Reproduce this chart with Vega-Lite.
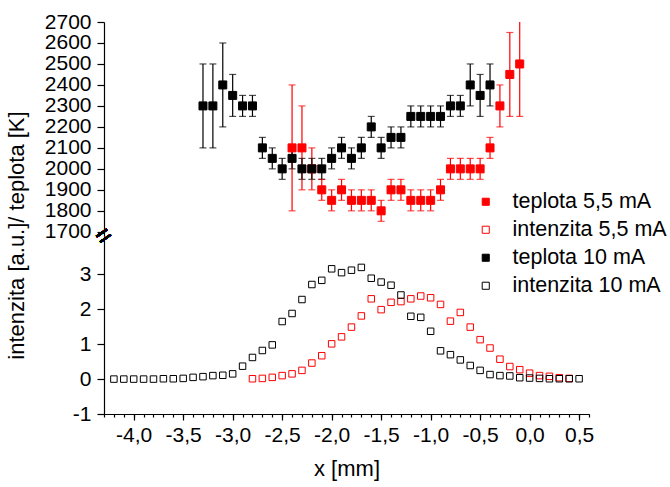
{
  "$schema": "https://vega.github.io/schema/vega-lite/v6.json",
  "autosize": {"type": "pad"},
  "padding": {"left": 5, "top": 11, "right": 20, "bottom": 40},
  "background": "white",
  "spacing": 0,
  "bounds": "flush",
  "config": {
    "font": "Liberation Sans",
    "view": {"stroke": null},
    "axis": {"labelFont": "Liberation Sans", "labelFontSize": 21, "labelColor": "black", "labelOverlap": false, "titleFont": "Liberation Sans", "titleFontSize": 22, "titleFontWeight": "normal", "titleColor": "black", "domainColor": "black", "tickColor": "black", "grid": false, "domainWidth": 1.2, "tickWidth": 1.2},
    "legend": {"labelFont": "Liberation Sans", "labelFontSize": 21.5, "labelColor": "black"}
  },
  "resolve": {"scale": {"fill": "shared", "stroke": "shared", "color": "shared"}},
  "datasets": {
    "teplota": [
      {"x": -2.4, "T": 2100, "lo": 1800, "hi": 2400, "series": "teplota 5,5 mA"},
      {"x": -2.3, "T": 2100, "lo": 1900, "hi": 2300, "series": "teplota 5,5 mA"},
      {"x": -2.2, "T": 2000, "lo": 1900, "hi": 2100, "series": "teplota 5,5 mA"},
      {"x": -2.1, "T": 1900, "lo": 1850, "hi": 1950, "series": "teplota 5,5 mA"},
      {"x": -2.0, "T": 1850, "lo": 1800, "hi": 1900, "series": "teplota 5,5 mA"},
      {"x": -1.9, "T": 1900, "lo": 1850, "hi": 1950, "series": "teplota 5,5 mA"},
      {"x": -1.8, "T": 1850, "lo": 1800, "hi": 1900, "series": "teplota 5,5 mA"},
      {"x": -1.7, "T": 1850, "lo": 1800, "hi": 1900, "series": "teplota 5,5 mA"},
      {"x": -1.6, "T": 1850, "lo": 1800, "hi": 1900, "series": "teplota 5,5 mA"},
      {"x": -1.5, "T": 1800, "lo": 1750, "hi": 1850, "series": "teplota 5,5 mA"},
      {"x": -1.4, "T": 1900, "lo": 1850, "hi": 1950, "series": "teplota 5,5 mA"},
      {"x": -1.3, "T": 1900, "lo": 1850, "hi": 1950, "series": "teplota 5,5 mA"},
      {"x": -1.2, "T": 1850, "lo": 1800, "hi": 1900, "series": "teplota 5,5 mA"},
      {"x": -1.1, "T": 1850, "lo": 1800, "hi": 1900, "series": "teplota 5,5 mA"},
      {"x": -1.0, "T": 1850, "lo": 1800, "hi": 1900, "series": "teplota 5,5 mA"},
      {"x": -0.9, "T": 1900, "lo": 1850, "hi": 1950, "series": "teplota 5,5 mA"},
      {"x": -0.8, "T": 2000, "lo": 1950, "hi": 2050, "series": "teplota 5,5 mA"},
      {"x": -0.7, "T": 2000, "lo": 1950, "hi": 2050, "series": "teplota 5,5 mA"},
      {"x": -0.6, "T": 2000, "lo": 1950, "hi": 2050, "series": "teplota 5,5 mA"},
      {"x": -0.5, "T": 2000, "lo": 1950, "hi": 2050, "series": "teplota 5,5 mA"},
      {"x": -0.4, "T": 2100, "lo": 2050, "hi": 2150, "series": "teplota 5,5 mA"},
      {"x": -0.3, "T": 2300, "lo": 2200, "hi": 2400, "series": "teplota 5,5 mA"},
      {"x": -0.2, "T": 2450, "lo": 2250, "hi": 2650, "series": "teplota 5,5 mA"},
      {"x": -0.1, "T": 2500, "lo": 2250, "hi": 2750, "series": "teplota 5,5 mA"},
      {"x": -3.3, "T": 2300, "lo": 2100, "hi": 2500, "series": "teplota 10 mA"},
      {"x": -3.2, "T": 2300, "lo": 2100, "hi": 2500, "series": "teplota 10 mA"},
      {"x": -3.1, "T": 2400, "lo": 2200, "hi": 2600, "series": "teplota 10 mA"},
      {"x": -3.0, "T": 2350, "lo": 2250, "hi": 2450, "series": "teplota 10 mA"},
      {"x": -2.9, "T": 2300, "lo": 2250, "hi": 2350, "series": "teplota 10 mA"},
      {"x": -2.8, "T": 2300, "lo": 2250, "hi": 2350, "series": "teplota 10 mA"},
      {"x": -2.7, "T": 2100, "lo": 2050, "hi": 2150, "series": "teplota 10 mA"},
      {"x": -2.6, "T": 2050, "lo": 2000, "hi": 2100, "series": "teplota 10 mA"},
      {"x": -2.5, "T": 2000, "lo": 1950, "hi": 2050, "series": "teplota 10 mA"},
      {"x": -2.4, "T": 2050, "lo": 2000, "hi": 2100, "series": "teplota 10 mA"},
      {"x": -2.3, "T": 2000, "lo": 1950, "hi": 2050, "series": "teplota 10 mA"},
      {"x": -2.2, "T": 2000, "lo": 1950, "hi": 2050, "series": "teplota 10 mA"},
      {"x": -2.1, "T": 2000, "lo": 1950, "hi": 2050, "series": "teplota 10 mA"},
      {"x": -2.0, "T": 2050, "lo": 2000, "hi": 2100, "series": "teplota 10 mA"},
      {"x": -1.9, "T": 2100, "lo": 2050, "hi": 2150, "series": "teplota 10 mA"},
      {"x": -1.8, "T": 2050, "lo": 2000, "hi": 2100, "series": "teplota 10 mA"},
      {"x": -1.7, "T": 2100, "lo": 2050, "hi": 2150, "series": "teplota 10 mA"},
      {"x": -1.6, "T": 2200, "lo": 2150, "hi": 2250, "series": "teplota 10 mA"},
      {"x": -1.5, "T": 2100, "lo": 2050, "hi": 2150, "series": "teplota 10 mA"},
      {"x": -1.4, "T": 2150, "lo": 2100, "hi": 2200, "series": "teplota 10 mA"},
      {"x": -1.3, "T": 2150, "lo": 2100, "hi": 2200, "series": "teplota 10 mA"},
      {"x": -1.2, "T": 2250, "lo": 2200, "hi": 2300, "series": "teplota 10 mA"},
      {"x": -1.1, "T": 2250, "lo": 2200, "hi": 2300, "series": "teplota 10 mA"},
      {"x": -1.0, "T": 2250, "lo": 2200, "hi": 2300, "series": "teplota 10 mA"},
      {"x": -0.9, "T": 2250, "lo": 2200, "hi": 2300, "series": "teplota 10 mA"},
      {"x": -0.8, "T": 2300, "lo": 2250, "hi": 2350, "series": "teplota 10 mA"},
      {"x": -0.7, "T": 2300, "lo": 2250, "hi": 2350, "series": "teplota 10 mA"},
      {"x": -0.6, "T": 2400, "lo": 2300, "hi": 2500, "series": "teplota 10 mA"},
      {"x": -0.5, "T": 2350, "lo": 2250, "hi": 2450, "series": "teplota 10 mA"},
      {"x": -0.4, "T": 2400, "lo": 2300, "hi": 2500, "series": "teplota 10 mA"}
    ],
    "intenzita": [
      {"x": -2.8, "I": 0.01, "series": "intenzita 5,5 mA"},
      {"x": -2.7, "I": 0.02, "series": "intenzita 5,5 mA"},
      {"x": -2.6, "I": 0.05, "series": "intenzita 5,5 mA"},
      {"x": -2.5, "I": 0.1, "series": "intenzita 5,5 mA"},
      {"x": -2.4, "I": 0.15, "series": "intenzita 5,5 mA"},
      {"x": -2.3, "I": 0.25, "series": "intenzita 5,5 mA"},
      {"x": -2.2, "I": 0.46, "series": "intenzita 5,5 mA"},
      {"x": -2.1, "I": 0.67, "series": "intenzita 5,5 mA"},
      {"x": -2.0, "I": 1.01, "series": "intenzita 5,5 mA"},
      {"x": -1.9, "I": 1.21, "series": "intenzita 5,5 mA"},
      {"x": -1.8, "I": 1.49, "series": "intenzita 5,5 mA"},
      {"x": -1.7, "I": 1.81, "series": "intenzita 5,5 mA"},
      {"x": -1.6, "I": 2.3, "series": "intenzita 5,5 mA"},
      {"x": -1.5, "I": 1.99, "series": "intenzita 5,5 mA"},
      {"x": -1.4, "I": 2.2, "series": "intenzita 5,5 mA"},
      {"x": -1.3, "I": 2.22, "series": "intenzita 5,5 mA"},
      {"x": -1.2, "I": 2.3, "series": "intenzita 5,5 mA"},
      {"x": -1.1, "I": 2.38, "series": "intenzita 5,5 mA"},
      {"x": -1.0, "I": 2.33, "series": "intenzita 5,5 mA"},
      {"x": -0.9, "I": 2.14, "series": "intenzita 5,5 mA"},
      {"x": -0.8, "I": 1.66, "series": "intenzita 5,5 mA"},
      {"x": -0.7, "I": 1.91, "series": "intenzita 5,5 mA"},
      {"x": -0.6, "I": 1.49, "series": "intenzita 5,5 mA"},
      {"x": -0.5, "I": 1.13, "series": "intenzita 5,5 mA"},
      {"x": -0.4, "I": 0.89, "series": "intenzita 5,5 mA"},
      {"x": -0.3, "I": 0.57, "series": "intenzita 5,5 mA"},
      {"x": -0.2, "I": 0.36, "series": "intenzita 5,5 mA"},
      {"x": -0.1, "I": 0.27, "series": "intenzita 5,5 mA"},
      {"x": 0.0, "I": 0.17, "series": "intenzita 5,5 mA"},
      {"x": 0.1, "I": 0.1, "series": "intenzita 5,5 mA"},
      {"x": 0.2, "I": 0.08, "series": "intenzita 5,5 mA"},
      {"x": 0.3, "I": 0.04, "series": "intenzita 5,5 mA"},
      {"x": 0.4, "I": 0.02, "series": "intenzita 5,5 mA"},
      {"x": -4.2, "I": 0.0, "series": "intenzita 10 mA"},
      {"x": -4.1, "I": 0.0, "series": "intenzita 10 mA"},
      {"x": -4.0, "I": 0.0, "series": "intenzita 10 mA"},
      {"x": -3.9, "I": 0.0, "series": "intenzita 10 mA"},
      {"x": -3.8, "I": 0.0, "series": "intenzita 10 mA"},
      {"x": -3.7, "I": 0.01, "series": "intenzita 10 mA"},
      {"x": -3.6, "I": 0.01, "series": "intenzita 10 mA"},
      {"x": -3.5, "I": 0.02, "series": "intenzita 10 mA"},
      {"x": -3.4, "I": 0.05, "series": "intenzita 10 mA"},
      {"x": -3.3, "I": 0.07, "series": "intenzita 10 mA"},
      {"x": -3.2, "I": 0.1, "series": "intenzita 10 mA"},
      {"x": -3.1, "I": 0.11, "series": "intenzita 10 mA"},
      {"x": -3.0, "I": 0.15, "series": "intenzita 10 mA"},
      {"x": -2.9, "I": 0.37, "series": "intenzita 10 mA"},
      {"x": -2.8, "I": 0.62, "series": "intenzita 10 mA"},
      {"x": -2.7, "I": 0.82, "series": "intenzita 10 mA"},
      {"x": -2.6, "I": 0.98, "series": "intenzita 10 mA"},
      {"x": -2.5, "I": 1.65, "series": "intenzita 10 mA"},
      {"x": -2.4, "I": 1.88, "series": "intenzita 10 mA"},
      {"x": -2.3, "I": 2.28, "series": "intenzita 10 mA"},
      {"x": -2.2, "I": 2.71, "series": "intenzita 10 mA"},
      {"x": -2.1, "I": 2.83, "series": "intenzita 10 mA"},
      {"x": -2.0, "I": 3.16, "series": "intenzita 10 mA"},
      {"x": -1.9, "I": 3.05, "series": "intenzita 10 mA"},
      {"x": -1.8, "I": 3.12, "series": "intenzita 10 mA"},
      {"x": -1.7, "I": 3.2, "series": "intenzita 10 mA"},
      {"x": -1.6, "I": 2.89, "series": "intenzita 10 mA"},
      {"x": -1.5, "I": 2.78, "series": "intenzita 10 mA"},
      {"x": -1.4, "I": 2.69, "series": "intenzita 10 mA"},
      {"x": -1.3, "I": 2.41, "series": "intenzita 10 mA"},
      {"x": -1.2, "I": 1.8, "series": "intenzita 10 mA"},
      {"x": -1.1, "I": 1.77, "series": "intenzita 10 mA"},
      {"x": -1.0, "I": 1.37, "series": "intenzita 10 mA"},
      {"x": -0.9, "I": 0.81, "series": "intenzita 10 mA"},
      {"x": -0.8, "I": 0.7, "series": "intenzita 10 mA"},
      {"x": -0.7, "I": 0.55, "series": "intenzita 10 mA"},
      {"x": -0.6, "I": 0.39, "series": "intenzita 10 mA"},
      {"x": -0.5, "I": 0.25, "series": "intenzita 10 mA"},
      {"x": -0.4, "I": 0.13, "series": "intenzita 10 mA"},
      {"x": -0.3, "I": 0.1, "series": "intenzita 10 mA"},
      {"x": -0.2, "I": 0.09, "series": "intenzita 10 mA"},
      {"x": -0.1, "I": 0.04, "series": "intenzita 10 mA"},
      {"x": 0.0, "I": 0.03, "series": "intenzita 10 mA"},
      {"x": 0.1, "I": 0.02, "series": "intenzita 10 mA"},
      {"x": 0.2, "I": 0.01, "series": "intenzita 10 mA"},
      {"x": 0.3, "I": 0.01, "series": "intenzita 10 mA"},
      {"x": 0.4, "I": 0.01, "series": "intenzita 10 mA"},
      {"x": 0.5, "I": 0.01, "series": "intenzita 10 mA"}
    ]
  },
  "vconcat": [
    {
      "width": 485,
      "height": 214,
      "data": {"name": "teplota"},
      "layer": [
        {
          "mark": {"type": "errorbar", "ticks": {"size": 7}, "thickness": 1.2, "clip": true},
          "encoding": {
            "x": {"field": "x", "type": "quantitative", "scale": {"domain": [-4.3, 0.6], "nice": false, "zero": false}, "axis": null},
            "y": {"field": "lo", "type": "quantitative", "scale": {"domain": [1680, 2700], "nice": false, "zero": false},
              "axis": {"values": [1700, 1800, 1900, 2000, 2100, 2200, 2300, 2400, 2500, 2600, 2700], "tickSize": 7, "labelPadding": 6, "format": "d", "title": "intenzita [a.u.]/ teplota [K]", "titleX": -88, "titleY": 213, "titleAngle": -90, "titleAlign": "center", "titleBaseline": "middle"}},
            "y2": {"field": "hi"},
            "color": {"field": "series", "type": "nominal", "scale": {"domain": ["teplota 5,5 mA", "teplota 10 mA"], "range": ["#ff0000", "#000000"]}, "legend": null}
          }
        },
        {
          "mark": {"type": "square", "size": 64, "opacity": 1, "strokeWidth": 1},
          "encoding": {
            "x": {"field": "x", "type": "quantitative", "scale": {"domain": [-4.3, 0.6], "nice": false, "zero": false}, "axis": null},
            "y": {"field": "T", "type": "quantitative", "scale": {"domain": [1680, 2700], "nice": false, "zero": false},
              "axis": {"values": [1700, 1800, 1900, 2000, 2100, 2200, 2300, 2400, 2500, 2600, 2700], "tickSize": 7, "labelPadding": 6, "format": "d", "title": "intenzita [a.u.]/ teplota [K]", "titleX": -88, "titleY": 213, "titleAngle": -90, "titleAlign": "center", "titleBaseline": "middle"}},
            "fill": {"field": "series", "type": "nominal", "scale": {"domain": ["teplota 5,5 mA", "intenzita 5,5 mA", "teplota 10 mA", "intenzita 10 mA"], "range": ["#ff0000", "transparent", "#000000", "transparent"]},
              "legend": {"orient": "none", "legendX": 371, "legendY": 169, "title": null, "symbolSize": 50, "symbolStrokeWidth": 1, "rowPadding": 5, "labelOffset": 16, "padding": 0, "symbolType": "square"}},
            "stroke": {"field": "series", "type": "nominal", "scale": {"domain": ["teplota 5,5 mA", "intenzita 5,5 mA", "teplota 10 mA", "intenzita 10 mA"], "range": ["#ff0000", "#ff0000", "#000000", "#000000"]},
              "legend": {"orient": "none", "legendX": 371, "legendY": 169, "title": null, "symbolSize": 50, "symbolStrokeWidth": 1, "rowPadding": 5, "labelOffset": 16, "padding": 0, "symbolType": "square"}}
          }
        },
        {
          "mark": {"type": "text", "text": "=", "angle": -35, "fontSize": 26, "color": "black", "align": "center", "baseline": "middle"},
          "encoding": {
            "x": {"datum": -4.3, "type": "quantitative", "scale": {"domain": [-4.3, 0.6], "nice": false, "zero": false}, "axis": null},
            "y": {"datum": 1680, "type": "quantitative", "scale": {"domain": [1680, 2700], "nice": false, "zero": false},
              "axis": {"values": [1700, 1800, 1900, 2000, 2100, 2200, 2300, 2400, 2500, 2600, 2700], "tickSize": 7, "labelPadding": 6, "format": "d", "title": "intenzita [a.u.]/ teplota [K]", "titleX": -88, "titleY": 213, "titleAngle": -90, "titleAlign": "center", "titleBaseline": "middle"}}
          }
        }
      ]
    },
    {
      "width": 485,
      "height": 178,
      "data": {"name": "intenzita"},
      "resolve": {"axis": {"x": "independent"}},
      "layer": [
        {
          "transform": [{"filter": "datum.series === 'intenzita 5,5 mA'"}],
          "mark": {"type": "square", "size": 42, "opacity": 1, "strokeWidth": 1},
          "encoding": {
            "x": {"field": "x", "type": "quantitative", "scale": {"domain": [-4.3, 0.6], "nice": false, "zero": false},
              "axis": {"orient": "bottom", "values": [-4, -3.5, -3, -2.5, -2, -1.5, -1, -0.5, 0, 0.5], "tickSize": 6, "labelPadding": 4, "labelExpr": "(datum.value < 0 ? '-' : '') + replace(format(abs(datum.value), '.1f'), '.', ',')", "title": "x [mm]", "titlePadding": 13}},
            "y": {"field": "I", "type": "quantitative", "scale": {"domain": [-1, 4.1], "nice": false, "zero": false},
              "axis": {"values": [-1, 0, 1, 2, 3], "tickSize": 7, "labelPadding": 6, "labelExpr": "(datum.value < 0 ? '-' : '') + format(abs(datum.value), 'd')", "title": null}},
            "fill": {"field": "series", "type": "nominal", "scale": {"domain": ["teplota 5,5 mA", "intenzita 5,5 mA", "teplota 10 mA", "intenzita 10 mA"], "range": ["#ff0000", "transparent", "#000000", "transparent"]},
              "legend": {"orient": "none", "legendX": 371, "legendY": 169, "title": null, "symbolSize": 50, "symbolStrokeWidth": 1, "rowPadding": 5, "labelOffset": 16, "padding": 0, "symbolType": "square"}},
            "stroke": {"field": "series", "type": "nominal", "scale": {"domain": ["teplota 5,5 mA", "intenzita 5,5 mA", "teplota 10 mA", "intenzita 10 mA"], "range": ["#ff0000", "#ff0000", "#000000", "#000000"]},
              "legend": {"orient": "none", "legendX": 371, "legendY": 169, "title": null, "symbolSize": 50, "symbolStrokeWidth": 1, "rowPadding": 5, "labelOffset": 16, "padding": 0, "symbolType": "square"}}
          }
        },
        {
          "transform": [{"filter": "datum.series === 'intenzita 10 mA'"}],
          "mark": {"type": "square", "size": 42, "opacity": 1, "strokeWidth": 1},
          "encoding": {
            "x": {"field": "x", "type": "quantitative", "scale": {"domain": [-4.3, 0.6], "nice": false, "zero": false},
              "axis": {"orient": "bottom", "values": [-4.3, -4.2, -4.1, -4.0, -3.9, -3.8, -3.7, -3.6, -3.5, -3.4, -3.3, -3.2, -3.1, -3.0, -2.9, -2.8, -2.7, -2.6, -2.5, -2.4, -2.3, -2.2, -2.1, -2.0, -1.9, -1.8, -1.7, -1.6, -1.5, -1.4, -1.3, -1.2, -1.1, -1.0, -0.9, -0.8, -0.7, -0.6, -0.5, -0.4, -0.3, -0.2, -0.1, 0.0, 0.1, 0.2, 0.3, 0.4, 0.5, 0.6], "tickSize": 3, "labels": false, "title": null}},
            "y": {"field": "I", "type": "quantitative", "scale": {"domain": [-1, 4.1], "nice": false, "zero": false},
              "axis": {"values": [-1, 0, 1, 2, 3], "tickSize": 7, "labelPadding": 6, "labelExpr": "(datum.value < 0 ? '-' : '') + format(abs(datum.value), 'd')", "title": null}},
            "fill": {"field": "series", "type": "nominal", "scale": {"domain": ["teplota 5,5 mA", "intenzita 5,5 mA", "teplota 10 mA", "intenzita 10 mA"], "range": ["#ff0000", "transparent", "#000000", "transparent"]},
              "legend": {"orient": "none", "legendX": 371, "legendY": 169, "title": null, "symbolSize": 50, "symbolStrokeWidth": 1, "rowPadding": 5, "labelOffset": 16, "padding": 0, "symbolType": "square"}},
            "stroke": {"field": "series", "type": "nominal", "scale": {"domain": ["teplota 5,5 mA", "intenzita 5,5 mA", "teplota 10 mA", "intenzita 10 mA"], "range": ["#ff0000", "#ff0000", "#000000", "#000000"]},
              "legend": {"orient": "none", "legendX": 371, "legendY": 169, "title": null, "symbolSize": 50, "symbolStrokeWidth": 1, "rowPadding": 5, "labelOffset": 16, "padding": 0, "symbolType": "square"}}
          }
        }
      ]
    }
  ]
}
